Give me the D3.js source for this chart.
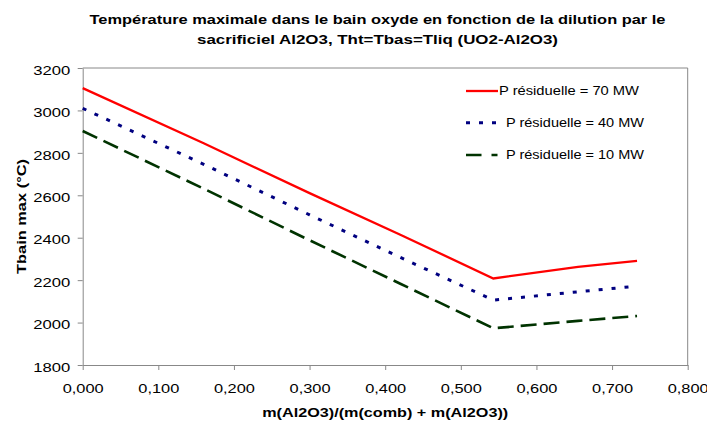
<!DOCTYPE html>
<html><head><meta charset="utf-8">
<script src="https://cdn.jsdelivr.net/npm/d3@7"></script>
<style>body{margin:0;background:#fff}svg{display:block}text{font-family:"Liberation Sans",Arial,sans-serif}</style>
</head><body>
<script>
const dilution = [0, 0.16, 0.30, 0.42, 0.543, 0.655, 0.733];
const p70 = [3105, 2845, 2610, 2414, 2208, 2263, 2291];
const p40 = [3010, 2746, 2508, 2307, 2106, 2145, 2172];
const p10 = [2903, 2631, 2388, 2183, 1973, 2008, 2031];
const seriesNames = ["P résiduelle = 70 MW", "P résiduelle = 40 MW", "P résiduelle = 10 MW"];
const xTicks = [0, 0.1, 0.2, 0.3, 0.4, 0.5, 0.6, 0.7, 0.8];
const yTicks = [1800, 2000, 2200, 2400, 2600, 2800, 3000, 3200];
const titleLines = ["Température maximale dans le bain oxyde en fonction de la dilution par le", "sacrificiel Al2O3, Tht=Tbas=Tliq (UO2-Al2O3)"];
const xTitle = "m(Al2O3)/(m(comb) + m(Al2O3))";
const yTitle = "Tbain max (°C)";

const W = 707, H = 423;
const L = 82.7, R = 687.7, T = 68, B = 365;
const svg = d3.select("body").append("svg").attr("width", W).attr("height", H);
const x = d3.scaleLinear().domain([0, 0.8]).range([L, R]);
const y = d3.scaleLinear().domain([1800, 3200]).range([B, T]);

// plot border top/right
svg.append("path").attr("d", `M${L},${T}H${R}V${B}`).attr("fill", "none").attr("stroke", "#888").attr("stroke-width", 1);

const fmt = v => d3.format(".3f")(v).replace(".", ",");
const xa = svg.append("g").attr("transform", `translate(0,${B})`)
  .call(d3.axisBottom(x).tickValues(xTicks).tickFormat(fmt).tickSize(5).tickSizeOuter(0));
xa.select(".domain").attr("stroke", "#888");
xa.selectAll(".tick line").attr("stroke", "#888");
xa.selectAll(".tick text").attr("y", 28).attr("dy", 0).attr("font-size", 12.5).attr("fill", "#000")
  .attr("textLength", 41).attr("lengthAdjust", "spacingAndGlyphs");

const ya = svg.append("g").attr("transform", `translate(${L},0)`)
  .call(d3.axisLeft(y).tickValues(yTicks).tickFormat(d3.format("d")).tickSize(5).tickSizeOuter(0));
ya.select(".domain").attr("stroke", "#888");
ya.selectAll(".tick line").attr("stroke", "#888");
ya.selectAll(".tick text").attr("x", -12.5).attr("dy", "0.5em").attr("font-size", 12.5).attr("fill", "#000")
  .attr("textLength", 37).attr("lengthAdjust", "spacingAndGlyphs");

// titles
const tl = [{t: titleLines[0], y: 24, w: 576}, {t: titleLines[1], y: 44, w: 361}];
svg.selectAll(".title").data(tl).join("text").attr("class", "title")
  .attr("x", 377.5).attr("y", d => d.y).attr("text-anchor", "middle")
  .attr("font-weight", "bold").attr("font-size", 12.5)
  .attr("textLength", d => d.w).attr("lengthAdjust", "spacingAndGlyphs").text(d => d.t);
svg.append("text").attr("x", (L + R) / 2).attr("y", 417).attr("text-anchor", "middle")
  .attr("font-weight", "bold").attr("font-size", 12.5)
  .attr("textLength", 246).attr("lengthAdjust", "spacingAndGlyphs").text(xTitle);
svg.append("text").attr("transform", `translate(26,${(T + B) / 2}) rotate(-90)`).attr("text-anchor", "middle")
  .attr("font-weight", "bold").attr("font-size", 13)
  .attr("textLength", 115).attr("lengthAdjust", "spacingAndGlyphs").text(yTitle);

// series
const series = [
  {name: seriesNames[0], vals: p70, color: "#ff0000", width: 2.3, dash: null, ldash: null, ly: 91, tx: 499, tw: 140},
  {name: seriesNames[1], vals: p40, color: "#000080", width: 3, dash: "4,9", ldash: "4,9", ly: 122.7, tx: 506, tw: 138},
  {name: seriesNames[2], vals: p10, color: "#003300", width: 2.6, dash: "16,7", ldash: "15.5,10,6,100", ly: 155, tx: 506, tw: 138}
];
const line = d3.line().x(d => x(d[0])).y(d => y(d[1]));
series.forEach(s => {
  svg.append("path").datum(dilution.map((d, i) => [d, s.vals[i]]))
    .attr("d", line).attr("fill", "none").attr("stroke", s.color).attr("stroke-width", s.width)
    .attr("stroke-dasharray", s.dash);
  svg.append("line").attr("x1", 466).attr("x2", 498).attr("y1", s.ly).attr("y2", s.ly)
    .attr("stroke", s.color).attr("stroke-width", s.width).attr("stroke-dasharray", s.ldash);
  svg.append("text").attr("x", s.tx).attr("y", s.ly + 4.3).attr("font-size", 12.3)
    .attr("textLength", s.tw).attr("lengthAdjust", "spacingAndGlyphs").text(s.name);
});
</script>
</body></html>
